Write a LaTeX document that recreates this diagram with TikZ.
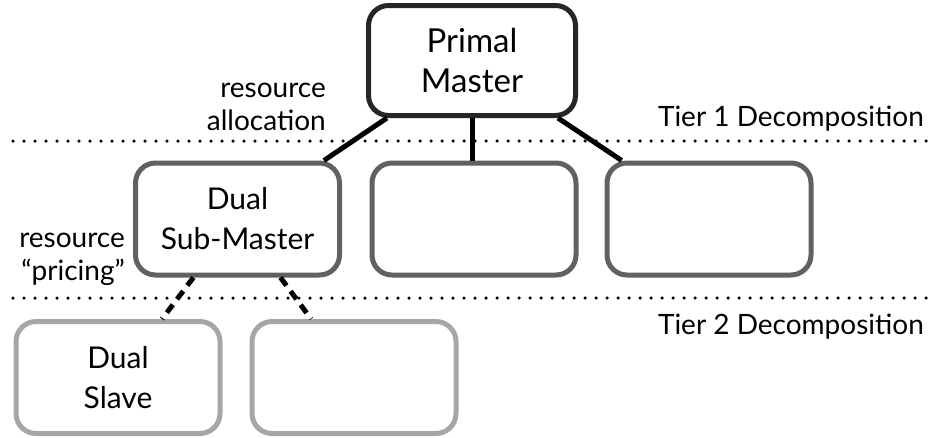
\documentclass[tikz,border=0pt]{standalone}
\usepackage{fontspec}
\setmainfont{Lato}
\begin{document}
\begin{tikzpicture}[x=1pt,y=-1pt,
  box/.style={draw, rounded corners=20pt, line width=5pt, fill=white,
    minimum width=204pt, minimum height=112pt, align=center, inner sep=0pt,
    font=\fontsize{30}{40}\selectfont},
  topbox/.style={box, draw=black!85, minimum width=207pt, minimum height=110pt,
    font=\fontsize{33}{40}\selectfont},
  midbox/.style={box, draw=black!62},
  lowbox/.style={box, draw=black!35},
  link/.style={line width=5pt, black},
  dashlink/.style={line width=5pt, black, dash pattern=on 10pt off 7pt},
  tierline/.style={line width=3.5pt, line cap=round, dash pattern=on 0pt off 11pt, black},
  lbl/.style={font=\fontsize{28}{33}\selectfont, align=right, inner sep=0pt}]
\useasboundingbox (0,0) rectangle (931,437);

% tier separators
\draw[tierline] (13,141) -- (931,141);
\draw[tierline] (13,298) -- (931,298);

% boxes
\node[topbox] (pm) at (472,60.5) {Primal\\Master};
\node[midbox] (sm1) at (237.5,219) {Dual\\Sub-Master};
\node[midbox] (sm2) at (474,219) {};
\node[midbox] (sm3) at (709,219) {};
\node[lowbox] (sl1) at (118,377.5) {Dual\\Slave};
\node[lowbox] (sl2) at (354,377.5) {};

% connectors
\draw[link] (pm) -- (sm1);
\draw[link] (pm.south) -- (pm.south |- sm2.north);
\draw[link] (pm) -- (sm3);
\draw[dashlink] (sm1) -- (sl1);
\draw[dashlink] (sm1) -- (sl2);

% labels
\node[lbl, anchor=south east] (la) at (326,131) {resource\\allocation};
\node[lbl, anchor=south east] (lp) at (125,286) {resource\\``pricing''};
\node[lbl, anchor=base east] (t1) at (924,126) {Tier 1 Decomposition};
\node[lbl, anchor=base east] (t2) at (924,334) {Tier 2 Decomposition};
\end{tikzpicture}
\end{document}
